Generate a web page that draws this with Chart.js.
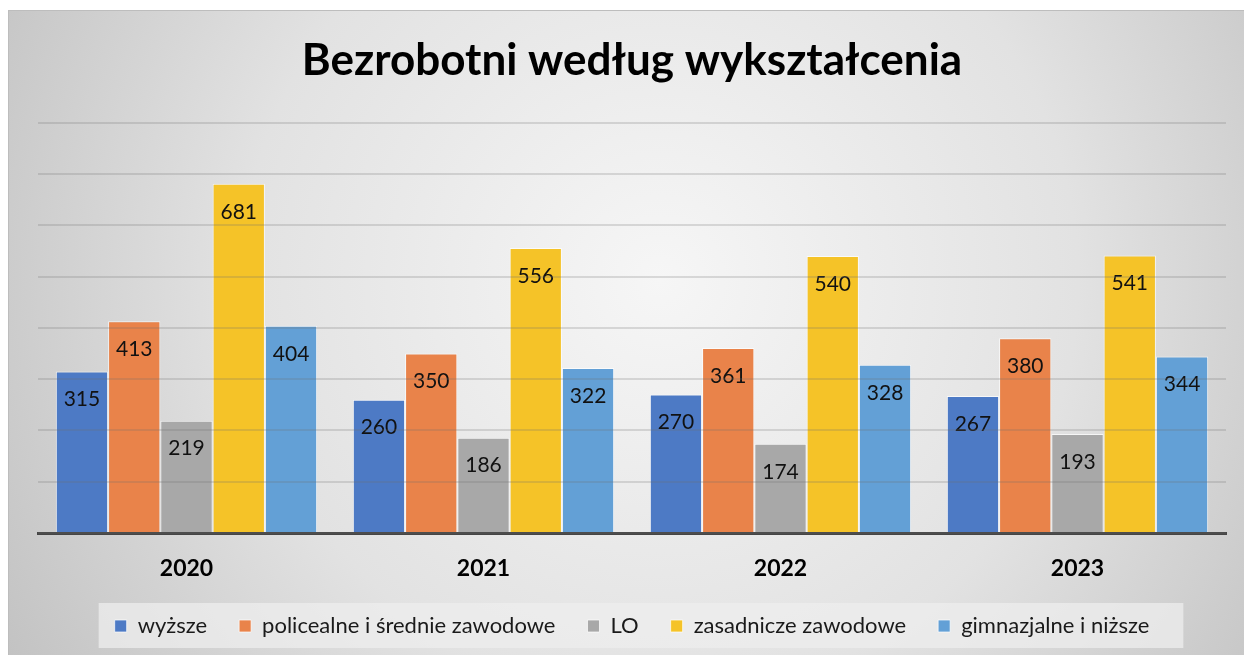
<!DOCTYPE html>
<html>
<head>
<meta charset="utf-8">
<script src="https://cdn.jsdelivr.net/npm/chart.js@4.4.0/dist/chart.umd.min.js"></script>
<style>
  html, body { margin: 0; padding: 0; background: #fff; }
  #wrap { width: 1244px; height: 655px; position: relative; }
</style>
</head>
<body>
<div id="wrap"><canvas id="chart"></canvas></div>
<script>
// dane
var years = ['2020', '2021', '2022', '2023'];
var wyzsze = [315, 260, 270, 267];
var policealne = [413, 350, 361, 380];
var lo = [219, 186, 174, 193];
var zasadnicze = [681, 556, 540, 541];
var gimnazjalne = [404, 322, 328, 344];
var seriesNames = ['wyższe', 'policealne i średnie zawodowe', 'LO', 'zasadnicze zawodowe', 'gimnazjalne i niższe'];

var FONT = 'Lato, "Open Sans", sans-serif';

// tło z gradientem, ramka i tło legendy
var backgroundPlugin = {
    id: 'frameBackground',
    beforeDraw: function(chart) {
        var ctx = chart.ctx;
        var x = 8, y = 10, w = chart.width - x, h = chart.height - y;
        ctx.save();
        var grad = ctx.createRadialGradient(660, 280, 0, 660, 280, 760);
        grad.addColorStop(0, '#f6f6f6');
        grad.addColorStop(0.55, '#e2e2e2');
        grad.addColorStop(1, '#c2c2c2');
        ctx.fillStyle = grad;
        ctx.fillRect(x, y, w, h);
        ctx.strokeStyle = '#bdbdbd';
        ctx.lineWidth = 1;
        ctx.strokeRect(x + 0.5, y + 0.5, w, h);

        var legend = chart.legend;
        if (legend && legend.legendHitBoxes && legend.legendHitBoxes.length) {
            var boxes = legend.legendHitBoxes;
            var minX = boxes[0].left, maxX = 0;
            boxes.forEach(function(b) {
                minX = Math.min(minX, b.left);
                maxX = Math.max(maxX, b.left + b.width);
            });
            var cy = boxes[0].top + boxes[0].height / 2;
            ctx.fillStyle = 'rgba(238,238,238,0.75)';
            ctx.fillRect(minX - 16, cy - 23, (maxX - minX) + 50, 45);
        }
        ctx.restore();
    }
};

// etykiety wartości wewnątrz słupków
var valueLabels = {
    id: 'valueLabels',
    afterDatasetsDraw: function(chart) {
        var ctx = chart.ctx;
        ctx.save();
        ctx.font = '21px ' + FONT;
        ctx.fillStyle = '#111';
        ctx.textAlign = 'center';
        ctx.textBaseline = 'middle';
        chart.data.datasets.forEach(function(ds, i) {
            chart.getDatasetMeta(i).data.forEach(function(bar, j) {
                ctx.fillText(ds.data[j], bar.x, bar.y + 28);
            });
        });
        ctx.restore();
    }
};

var colors = ['#4d7ac5', '#e9834a', '#a8a8a8', '#f5c328', '#63a0d6'];
var values = [wyzsze, policealne, lo, zasadnicze, gimnazjalne];

new Chart(document.getElementById('chart'), {
    type: 'bar',
    data: {
        labels: years,
        datasets: seriesNames.map(function(name, i) {
            return {
                label: name,
                data: values[i],
                backgroundColor: colors[i],
                borderColor: 'rgba(255,255,255,0.7)',
                borderWidth: 1,
                barPercentage: 1,
                categoryPercentage: 0.88
            };
        })
    },
    options: {
        responsive: true,
        maintainAspectRatio: false,
        animation: false,
        layout: {
            padding: { left: 38, right: 18, top: 10, bottom: 8 }
        },
        plugins: {
            title: {
                display: true,
                text: 'Bezrobotni według wykształcenia',
                color: '#000',
                font: { family: FONT, size: 44, weight: 'bold' },
                padding: { top: 24, bottom: 36 }
            },
            legend: {
                position: 'bottom',
                labels: {
                    color: '#1a1a1a',
                    font: { family: FONT, size: 22 },
                    boxWidth: 12,
                    boxHeight: 12,
                    padding: 32
                }
            },
            tooltip: { enabled: false }
        },
        scales: {
            x: {
                grid: { display: false },
                border: { display: true, color: '#454545', width: 3 },
                ticks: {
                    color: '#000',
                    font: { family: FONT, size: 23, weight: 'bold' },
                    padding: 14
                },
                afterFit: function(scale) {
                    scale.height = 50;
                }
            },
            y: {
                min: 0,
                max: 800,
                ticks: { display: false, stepSize: 100 },
                border: { display: false },
                grid: {
                    color: 'rgba(110,110,110,0.22)',
                    lineWidth: 2,
                    drawTicks: false,
                    z: 1
                }
            }
        }
    },
    plugins: [backgroundPlugin, valueLabels]
});
</script>
</body>
</html>
